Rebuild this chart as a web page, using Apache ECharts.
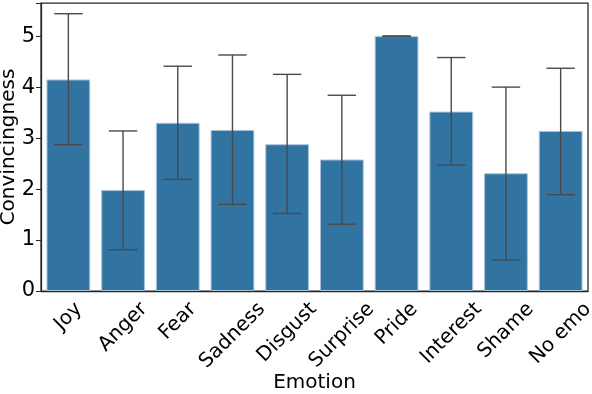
<!DOCTYPE html>
<html><head><meta charset="utf-8">
<script src="https://cdn.jsdelivr.net/npm/echarts@6/dist/echarts.min.js"></script>
<style>html,body{margin:0;padding:0;background:#fff}#c{width:592px;height:394px}</style>
</head><body><div id="c"></div>
<script>
var categories = ['Joy','Anger','Fear','Sadness','Disgust','Surprise','Pride','Interest','Shame','No emo'];
var means = [4.15, 1.98, 3.30, 3.16, 2.88, 2.58, 5.00, 3.52, 2.31, 3.14];
var errLow = [2.87, 0.81, 2.19, 1.70, 1.52, 1.31, 5.00, 2.47, 0.61, 1.89];
var errHigh = [5.44, 3.14, 4.41, 4.63, 4.25, 3.84, 5.00, 4.58, 4.00, 4.37];
var yTicks = [0, 1, 2, 3, 4, 5];

var font = 'DejaVu Sans';
var fs = 20;
var cv = document.createElement('canvas').getContext('2d');
cv.font = fs + 'px "' + font + '"';
var labelWidths = categories.map(function(c){ return cv.measureText(c).width; });
var errData = categories.map(function(c, i){ return [i, errLow[i], errHigh[i]]; });
var labelData = categories.map(function(c, i){ return [i, 0]; });

var chart = echarts.init(document.getElementById('c'), null, {renderer:'canvas'});
chart.setOption({
  animation: false,
  grid: {left: 41, right: 4, top: 3, bottom: 103, outerBoundsMode: 'none', containLabel: false,
         show: true, borderColor: '#262626', borderWidth: 1.25, backgroundColor: 'transparent'},
  xAxis: {
    type: 'category', data: categories,
    name: 'Emotion', nameLocation: 'middle', nameGap: 82, nameMoveOverlap: false,
    nameTextStyle: {fontFamily: font, fontSize: fs, color: '#000'},
    axisLine: {lineStyle: {color: '#262626', width: 1.25}},
    axisTick: {alignWithLabel: true, length: 5, lineStyle: {color: '#262626'}},
    axisLabel: {show: false}
  },
  yAxis: {
    type: 'value', min: 0, max: 5.65, interval: 1,
    name: 'Convincingness', nameLocation: 'middle', nameGap: 22, nameMoveOverlap: false,
    nameTextStyle: {fontFamily: font, fontSize: fs, color: '#000'},
    axisLine: {show: true, lineStyle: {color: '#262626', width: 1.25}},
    axisTick: {show: true, length: 5, lineStyle: {color: '#262626'}},
    splitLine: {show: false},
    axisLabel: {fontFamily: font, fontSize: 21, color: '#000', margin: 6,
      formatter: function(v){ return yTicks.indexOf(v) >= 0 ? String(v) : ''; }}
  },
  series: [
    {type: 'bar', data: means, barCategoryGap: '20%',
     itemStyle: {color: '#3274a1', borderColor: '#a9c4da', borderWidth: 1}},
    {type: 'custom', data: errData, z: 5,
     renderItem: function(params, api){
       var x = api.value(0);
       var lo = api.coord([x, api.value(1)]);
       var hi = api.coord([x, api.value(2)]);
       var hw = api.size([1, 0])[0] * 0.26;
       var st = {stroke: '#4a4a4a', lineWidth: 1.4};
       return {type: 'group', children: [
         {type: 'line', shape: {x1: lo[0], y1: lo[1], x2: hi[0], y2: hi[1]}, style: st},
         {type: 'line', shape: {x1: lo[0]-hw, y1: lo[1], x2: lo[0]+hw, y2: lo[1]}, style: st},
         {type: 'line', shape: {x1: hi[0]-hw, y1: hi[1], x2: hi[0]+hw, y2: hi[1]}, style: st}
       ]};
     }},
    // category tick labels, rotated 45 deg and centred under each tick (matplotlib style)
    {type: 'custom', data: labelData, z: 6, clip: false, silent: true,
     renderItem: function(params, api){
       var i = api.value(0);
       var p = api.coord([i, 0]);
       var d = (labelWidths[i] + fs) / (2 * Math.SQRT2);
       return {type: 'text', x: p[0], y: p[1] + 8 + d, rotation: Math.PI / 4,
         style: {text: categories[i], fontFamily: font, fontSize: fs, fill: '#000',
                 align: 'center', verticalAlign: 'middle'}};
     }}
  ]
});
</script></body></html>
